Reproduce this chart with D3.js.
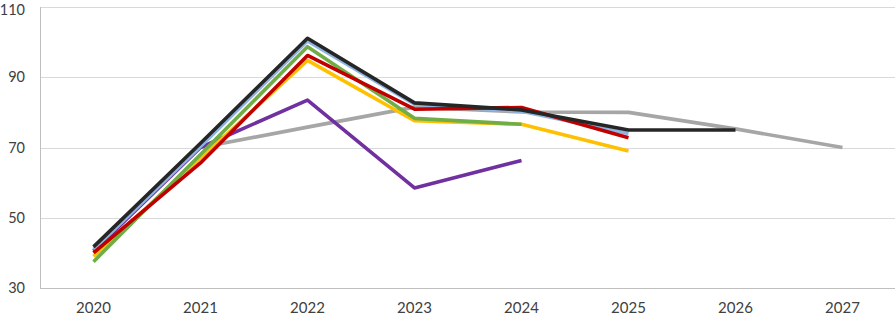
<!DOCTYPE html>
<html>
<head>
<meta charset="utf-8">
<script src="https://cdn.jsdelivr.net/npm/d3@7"></script>
<style>
  html, body { margin: 0; padding: 0; background: #fff; }
  svg { display: block; }
  text { font-family: Lato, "Open Sans", sans-serif; }
</style>
</head>
<body>
<svg id="chart" width="895" height="318"></svg>
<script>
const years = ["2020", "2021", "2022", "2023", "2024", "2025", "2026", "2027"];
const yTicks = [30, 50, 70, 90, 110];

const grayValues   = [null, 70, 75.8, 81.5, 80.1, 80, 75.3, 70];
const purpleValues = [40.5, 70, 83.5, 58.5, 66.3, null, null, null];
const blueValues   = [41, 70.3, 100.3, 82.3, 80.3, 74, null, null];
const yellowValues = [39, 67, 94.8, 77.6, 76.6, 69, null, null];
const greenValues  = [37.5, 68, 98.7, 78.3, 76.6, null, null, null];
const redValues    = [40, 65.6, 96.2, 80.9, 81.4, 72.8, null, null];
const blackValues  = [41.7, 71.2, 101.1, 82.7, 80.7, 75, 75, null];

const series = [
  { name: "gray", values: grayValues, color: "#a6a6a6" },
  { name: "purple", values: purpleValues, color: "#7030a0" },
  { name: "blue", values: blueValues, color: "#8db4e2" },
  { name: "yellow", values: yellowValues, color: "#ffc000" },
  { name: "green", values: greenValues, color: "#70ad47" },
  { name: "red", values: redValues, color: "#c00000" },
  { name: "black", values: blackValues, color: "#262626" }
];

const svg = d3.select("#chart");
const mLeft = 40, mRight = 896, mTop = 7, mBottom = 288;

const x = d3.scaleBand().domain(years).range([mLeft, mRight]);
const y = d3.scaleLinear().domain([30, 110]).range([mBottom, mTop]);

// gridlines
svg.append("g").selectAll("line").data(yTicks).join("line")
  .attr("x1", mLeft).attr("x2", 895)
  .attr("y1", d => Math.round(y(d)) + 0.5).attr("y2", d => Math.round(y(d)) + 0.5)
  .attr("stroke", d => d === 30 ? "#bfbfbf" : "#d9d9d9")
  .attr("stroke-width", 1);

// left axis line
svg.append("line")
  .attr("x1", mLeft + 0.5).attr("x2", mLeft + 0.5)
  .attr("y1", mTop).attr("y2", mBottom + 1)
  .attr("stroke", "#bfbfbf");

// y labels
const yAxis = d3.axisLeft(y).tickValues(yTicks).tickSize(0).tickPadding(0);
const gy = svg.append("g").attr("transform", "translate(25,0)").call(yAxis);
gy.select(".domain").remove();
gy.selectAll("text").attr("font-size", 14.5).attr("fill", "#404040")
  .attr("font-family", "Lato, 'Open Sans', sans-serif")
  .attr("dy", d => d === 110 ? "0.55em" : "0.32em");

// x labels
const xAxis = d3.axisBottom(x).tickSize(0).tickPadding(0);
const gx = svg.append("g").attr("transform", "translate(0,302)").call(xAxis);
gx.select(".domain").remove();
gx.selectAll("text").attr("font-size", 15).attr("fill", "#404040")
  .attr("font-family", "Lato, 'Open Sans', sans-serif");

const line = d3.line()
  .defined(d => d.v !== null)
  .x(d => x(d.year) + x.bandwidth() / 2)
  .y(d => y(d.v));

svg.append("g").selectAll("path").data(series).join("path")
  .attr("d", s => line(years.map((yr, i) => ({ year: yr, v: s.values[i] }))))
  .attr("fill", "none")
  .attr("stroke", s => s.color)
  .attr("stroke-width", 3.6)
  .attr("stroke-linejoin", "round");
</script>
</body>
</html>
